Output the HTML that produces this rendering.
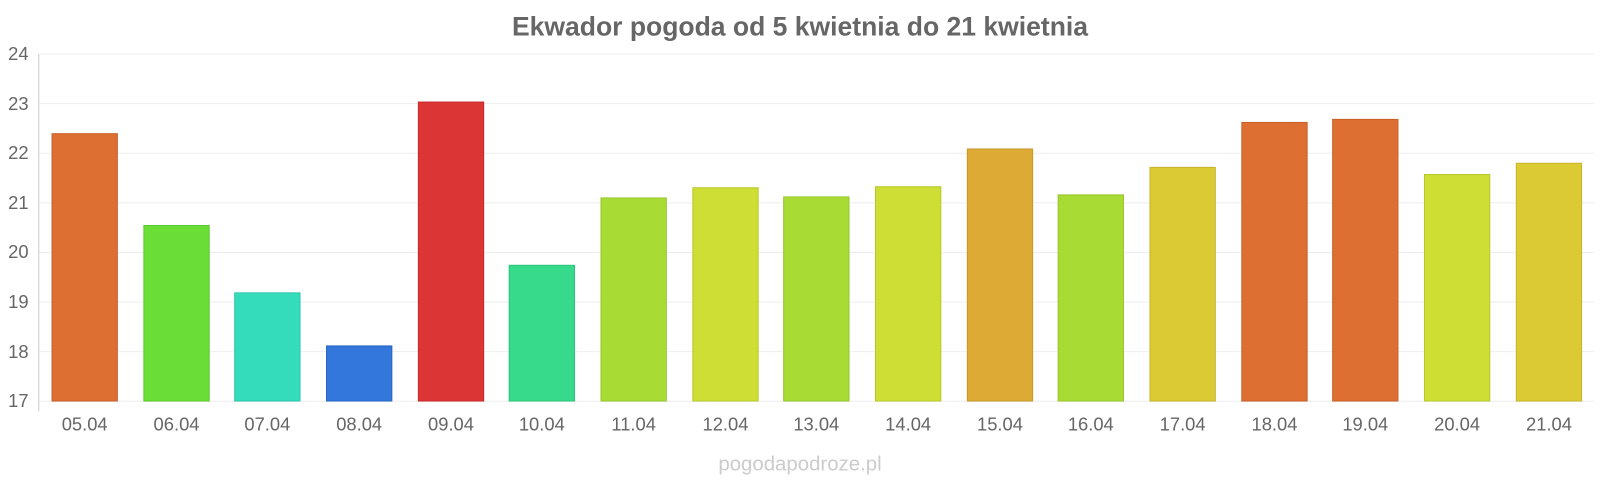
<!DOCTYPE html>
<html><head><meta charset="utf-8"><style>
body{margin:0;background:#fff;}
svg{display:block;font-family:"Liberation Sans",sans-serif;}
</style></head><body>
<svg width="1600" height="480" viewBox="0 0 1600 480">
<g transform="scale(1.0204)">
<text x="784" y="35" text-anchor="middle" font-size="26" font-weight="bold" fill="#666">Ekwador pogoda od 5 kwietnia do 21 kwietnia</text>
<g stroke="#eee" stroke-width="1">
<line x1="38" x2="1562" y1="53" y2="53"/><line x1="38" x2="1562" y1="101.6" y2="101.6"/>
<line x1="38" x2="1562" y1="150.2" y2="150.2"/><line x1="38" x2="1562" y1="198.8" y2="198.8"/>
<line x1="38" x2="1562" y1="247.4" y2="247.4"/><line x1="38" x2="1562" y1="296" y2="296"/>
<line x1="38" x2="1562" y1="344.6" y2="344.6"/><line x1="38" x2="1562" y1="393.2" y2="393.2"/>
</g>
<line x1="38" x2="38" y1="53" y2="403" stroke="#ccc"/>
<g font-size="18" fill="#666" text-anchor="end">
<text x="28" y="59">24</text><text x="28" y="108">23</text><text x="28" y="156">22</text><text x="28" y="205">21</text><text x="28" y="253">20</text><text x="28" y="302">19</text><text x="28" y="351">18</text><text x="28" y="399">17</text>
</g>
<g stroke-width="1">
<rect x="51" y="131" width="64" height="262" fill="#de6f33" stroke="#c85f28"/>
<rect x="141" y="221" width="64" height="172" fill="#6ade36" stroke="#5cc82c"/>
<rect x="230" y="287" width="64" height="106" fill="#35dcbc" stroke="#2cc6a8"/>
<rect x="320" y="339" width="64" height="54" fill="#3376dc" stroke="#2866c6"/>
<rect x="410" y="100" width="64" height="293" fill="#dc3535" stroke="#c62b2b"/>
<rect x="499" y="260" width="64" height="133" fill="#36da8a" stroke="#2cc47a"/>
<rect x="589" y="194" width="64" height="199" fill="#a8dc35" stroke="#96c62c"/>
<rect x="679" y="184" width="64" height="209" fill="#cede35" stroke="#b8c82c"/>
<rect x="768" y="193" width="64" height="200" fill="#a8dc35" stroke="#96c62c"/>
<rect x="858" y="183" width="64" height="210" fill="#cede35" stroke="#b8c82c"/>
<rect x="948" y="146" width="64" height="247" fill="#dcaa35" stroke="#c6982c"/>
<rect x="1037" y="191" width="64" height="202" fill="#a8dc35" stroke="#96c62c"/>
<rect x="1127" y="164" width="64" height="229" fill="#dcca35" stroke="#c6b42c"/>
<rect x="1217" y="120" width="64" height="273" fill="#de6f33" stroke="#c85f28"/>
<rect x="1306" y="117" width="64" height="276" fill="#de6f33" stroke="#c85f28"/>
<rect x="1396" y="171" width="64" height="222" fill="#cede35" stroke="#b8c82c"/>
<rect x="1486" y="160" width="64" height="233" fill="#dcca35" stroke="#c6b42c"/>
</g>
<g font-size="18" fill="#666" text-anchor="middle">
<text x="83" y="422">05.04</text><text x="173" y="422">06.04</text><text x="262" y="422">07.04</text><text x="352" y="422">08.04</text><text x="442" y="422">09.04</text><text x="531" y="422">10.04</text><text x="621" y="422">11.04</text><text x="711" y="422">12.04</text><text x="800" y="422">13.04</text><text x="890" y="422">14.04</text><text x="980" y="422">15.04</text><text x="1069" y="422">16.04</text><text x="1159" y="422">17.04</text><text x="1249" y="422">18.04</text><text x="1338" y="422">19.04</text><text x="1428" y="422">20.04</text><text x="1518" y="422">21.04</text>
</g>
<text x="784" y="461" text-anchor="middle" font-size="20" fill="#ccc">pogodapodroze.pl</text>
</g>
</svg>
</body></html>
